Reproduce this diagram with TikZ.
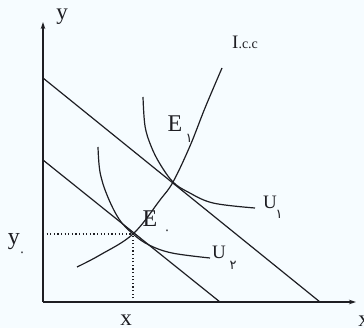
\documentclass[tikz,border=0pt]{standalone}
\usepackage{fontspec}
\setmainfont{Liberation Serif}
\newfontfamily\fadigits{DejaVu Sans}
\usetikzlibrary{arrows.meta}
\definecolor{bgc}{RGB}{246,252,255}
\definecolor{ink}{RGB}{30,30,35}
\tikzset{
  axisline/.style={ink, line width=1.2pt, -{Stealth[length=7pt,width=4.5pt]}},
  budget/.style={ink, line width=1.2pt},
  curve/.style={ink, line width=1.2pt},
  guide/.style={ink, line width=1.2pt, dash pattern=on 1.2pt off 2.4pt},
  lbl/.style={inner sep=0pt, text=ink},
  sub/.style={inner sep=0pt, text=ink, font=\fadigits\fontsize{13}{13}\selectfont},
}
\begin{document}
\begin{tikzpicture}[x=1pt,y=-1pt]
\useasboundingbox[fill=bgc] (0,0) rectangle (364,328);
% key points
\coordinate (O) at (43,302);
\coordinate (ytop) at (43,22);
\coordinate (xend) at (356,302);
\coordinate (b1s) at (43,78);
\coordinate (b1e) at (320,302);
\coordinate (b0s) at (43,160);
\coordinate (b0e) at (220,302);
\coordinate (E0) at (133,234);
\coordinate (E1) at (173,182);
\coordinate (E0y) at (43,234);
\coordinate (E0x) at (133,302);
% axes
\draw[axisline] (O) -- (ytop);
\draw[axisline] (O) -- (xend);
% budget lines
\draw[budget] (b1s) -- (b1e);
\draw[budget] (b0s) -- (b0e);
% guides
\draw[guide] (E0y) -- (E0);
\draw[guide] (E0x) -- (E0);
% income consumption curve
\draw[curve] plot[smooth, tension=0.6] coordinates {(77,267) (100,255) (E0) (160,200) (E1) (190,146) (205,108) (222,68)};
% indifference curves
\draw[curve] plot[smooth, tension=0.6] coordinates {(143,97) (145,126) (151,146) (160,164) (E1) (188,192) (213,203) (255,208)};
\draw[curve] plot[smooth, tension=0.6] coordinates {(98,147) (100,172) (107,195) (119,219) (E0) (149,245) (172,253) (210,258)};
% labels
\node[lbl, font=\fontsize{23}{23}\selectfont] (ylab) at (62,17) {y};
\node[lbl, font=\fontsize{23}{23}\selectfont] (xlab) at (364,321) {x};
\node[lbl, anchor=west] (icc) at (232,42) {{\fontsize{19}{19}\selectfont I}{\fontsize{14}{14}\selectfont .c.c}};
\node[lbl, font=\fontsize{24}{24}\selectfont] (E1lab) at (175,124) {E};
\node[sub] (E1sub) at (189,138) {۱};
\node[lbl, font=\fontsize{24}{24}\selectfont] (E0lab) at (150,219) {E};
\node[sub] (E0sub) at (167,232) {۰};
\node[lbl, font=\fontsize{19}{19}\selectfont] (U1lab) at (270,202) {U};
\node[sub] (U1sub) at (279,214) {۱};
\node[lbl, font=\fontsize{19}{19}\selectfont] (U2lab) at (219,252) {U};
\node[sub] (U2sub) at (233,265) {۲};
\node[lbl, font=\fontsize{24}{24}\selectfont] (y0lab) at (14,242) {y};
\node[sub] (y0sub) at (22,254) {۰};
\node[lbl, font=\fontsize{23}{23}\selectfont] (x0lab) at (126,320) {x};
\end{tikzpicture}
\end{document}
